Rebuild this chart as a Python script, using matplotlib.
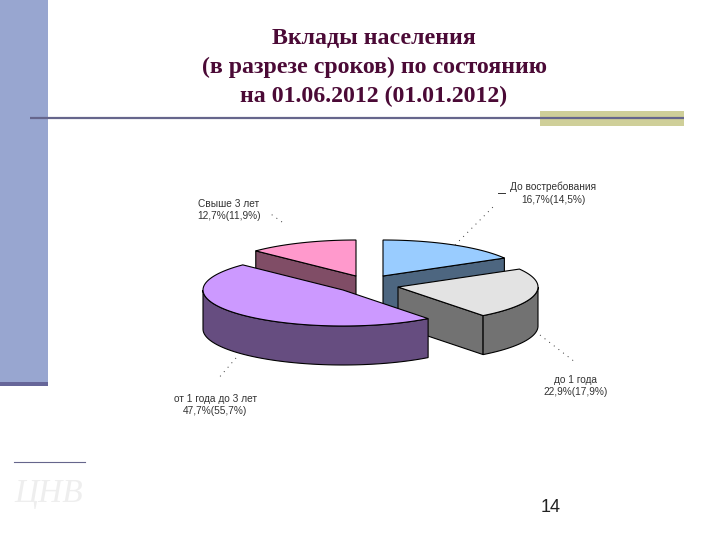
import numpy as np
import matplotlib
matplotlib.use('Agg')
import matplotlib.pyplot as plt
from matplotlib.patches import Polygon, Rectangle

# data, shares of the pie in percent (clockwise from 12 o'clock)
names = ['До востребования', 'до 1 года', 'от 1 года до 3 лет', 'Свыше 3 лет']
shares = [16.7, 22.9, 47.7, 12.7]
previous = [14.5, 17.9, 55.7, 11.9]
top_colors = ['#99CCFF', '#E3E3E3', '#CC99FF', '#FF99CC']
title_lines = ['Вклады населения', '(в разрезе сроков) по состоянию', 'на 01.06.2012 (01.01.2012)']

# layout, all in slide pixels
apex_x = [383, 398, 343, 356]
apex_y = [276, 287, 290, 276]
label_x = [553, 576, 215, 229]
label_y = [193, 386, 405, 210]
rx = 140
ry = 36
depth = 39
draw_order = [0, 3, 1, 2]

fig = plt.figure(figsize=(7.2, 5.4), dpi=100)
ax = fig.add_axes([0, 0, 1, 1])
ax.set_xlim(0, 720)
ax.set_ylim(540, 0)
ax.axis('off')

# slide decoration
ax.add_patch(Rectangle((0, 0), 48, 382, fc='#98A6D0', ec='none'))
ax.add_patch(Rectangle((0, 382), 48, 4, fc='#666699', ec='none'))
ax.add_patch(Rectangle((540, 111), 144, 15, fc='#CFCF99', ec='none'))
ax.plot([30, 684], [118, 118], color='#66668C', lw=1.6, solid_capstyle='butt')
ax.plot([14, 85], [462, 462], color='#66668C', lw=0.8)
ax.text(49, 494, 'ЦНВ', family='Liberation Serif', style='italic', fontsize=24,
        color='#EEEEEE', ha='center', va='center')

for i, line in enumerate(title_lines):
    ax.text(374, [38, 67, 96][i], line, family='Liberation Serif', weight='bold',
            fontsize=17.2, color='#4B0A36', ha='center', va='center')
ax.text(551, 507, '14', family='Liberation Sans', fontsize=13, color='#222222',
        ha='center', va='center')


def arc(cx, cy, a, b, dy=0):
    t = np.radians(np.linspace(a, b, 80))
    return np.column_stack([cx + rx * np.sin(t), cy - ry * np.cos(t) + dy])


starts = np.concatenate([[0], np.cumsum(shares)[:-1]]) * 3.6
ends = np.cumsum(shares) * 3.6

for i in draw_order:
    cx, cy = apex_x[i], apex_y[i]
    a, b = starts[i], ends[i]
    rgb = np.array(matplotlib.colors.to_rgb(top_colors[i]))
    side = tuple(rgb * 0.5)

    # flat side faces, only the ones turned to the viewer
    for edge, normal in [(a, a - 90), (b, b + 90)]:
        if np.cos(np.radians(normal)) < 0:
            p = arc(cx, cy, edge, edge)[0]
            face = [(cx, cy), p, (p[0], p[1] + depth), (cx, cy + depth)]
            ax.add_patch(Polygon(face, fc=side, ec='black', lw=0.8, joinstyle='round'))

    # outer wall, front half of the rim
    lo, hi = max(a, 90), min(b, 270)
    if lo < hi:
        wall = np.vstack([arc(cx, cy, lo, hi), arc(cx, cy, hi, lo, depth)])
        ax.add_patch(Polygon(wall, fc=side, ec='black', lw=0.8))

    top = np.vstack([[(cx, cy)], arc(cx, cy, a, b)])
    ax.add_patch(Polygon(top, fc=top_colors[i], ec='black', lw=0.8))

# labels with dotted leaders
leaders = [((455, 245), (495, 205)), ((540, 335), (575, 362)),
           ((236, 358), (217, 380)), ((282, 222), (268, 212))]
for (p, q) in leaders:
    ax.plot([p[0], q[0]], [p[1], q[1]], color='#333333', lw=0.7, ls=(0, (1, 5)))
ax.plot([498, 505], [193, 193], color='#333333', lw=0.7)

for i in range(4):
    val = f'{shares[i]}%({previous[i]}%)'.replace('.', ',')
    ax.text(label_x[i], label_y[i], names[i] + '\n' + val, family='Liberation Sans',
            fontsize=7.3, color='#333333', ha='center', va='center', linespacing=1.35)

fig.savefig('out.png', dpi=100)
